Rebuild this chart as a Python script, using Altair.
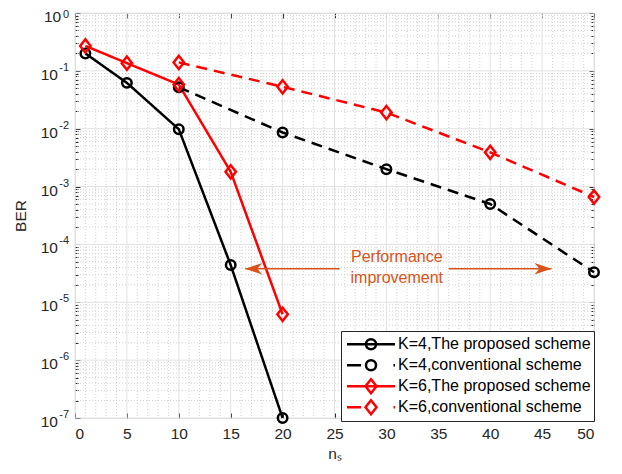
import altair as alt
import pandas as pd

# ---------------- data ----------------
ns_proposed = [1, 5, 10, 15, 20]
ns_conventional = [10, 20, 30, 40, 50]
ber_k4_proposed = [0.20, 0.062, 0.0098, 4.4e-5, 1e-7]
ber_k4_conventional = [0.052, 0.0086, 0.0020, 5.0e-4, 3.3e-5]
ber_k6_proposed = [0.27, 0.136, 0.058, 0.0018, 6.2e-6]
ber_k6_conventional = [0.14, 0.053, 0.019, 0.0039, 6.6e-4]

series_names = ["K=4,The proposed scheme", "K=4,conventional scheme",
                "K=6,The proposed scheme", "K=6,conventional scheme"]
series_x = [ns_proposed, ns_conventional, ns_proposed, ns_conventional]
series_y = [ber_k4_proposed, ber_k4_conventional, ber_k6_proposed, ber_k6_conventional]

x_major = list(range(0, 51, 5))
x_minor = [v for v in range(0, 51) if v % 5]
y_major = [10.0 ** e for e in range(-7, 1)]
y_minor = [k * 10.0 ** e for e in range(-7, 0) for k in range(2, 10)]

ann_lines = ["Performance", "improvement"]
ann_x = [31.0, 31.0]
ann_y = [6.1e-5, 2.6e-5]
arrow_y = 3.8e-5
arrow_left = [25.5, 16.4]   # tail, tip
arrow_right = [36.0, 45.9]  # tail, tip

# ---------------- styles ----------------
FONT = "Liberation Sans"
AX = "#262626"
ORANGE = "#D95319"
FS = 15.5
series_colors = ["#000000", "#000000", "#FF0000", "#FF0000"]
series_dash = [[1, 0], [11, 7], [1, 0], [11, 7]]
diamond = "M0,-1.4L1.1,0L0,1.4L-1.1,0Z"
point_shapes = ["circle", "circle", diamond, diamond]
circ = "M1,0A1,1,0,1,1,-1,0A1,1,0,1,1,1,0"
dia = "M0,-1.4L1.1,0L0,1.4L-1.1,0Z"
legend_shapes = [
    "M-4.8,0H4.8" + circ,
    "M-4.8,0H-2.0" + circ + "M4.5,0H4.8",
    "M-4.8,0H4.8" + dia,
    "M-4.8,0H-2.0" + dia + "M4.5,0H4.8",
]

rows = []
for name, xs_, ys_ in zip(series_names, series_x, series_y):
    for xv, yv in zip(xs_, ys_):
        rows.append({"series": name, "ns": xv, "ber": yv})
df = pd.DataFrame(rows)

W, H = 519, 405
xs = alt.Scale(domain=[0, 50], nice=False, zero=False)
ys = alt.Scale(type="log", domain=[1e-7, 1], nice=False)

def ax(**kw):
    base = dict(grid=False, domain=False, labels=False, title=None,
                tickColor=AX, tickWidth=1)
    base.update(kw)
    return alt.Axis(**base)

exp_expr = "datum.value > 0.5 ? '0' : '-' + round(abs(log(datum.value)/LN10))"

# grid layers
gx_minor = alt.Chart(pd.DataFrame({"v": x_minor})).mark_rule(
    color="#d2d2d2", strokeDash=[1, 2], strokeWidth=1).encode(
    x=alt.X("v:Q", scale=xs, axis=None))
gy_minor = alt.Chart(pd.DataFrame({"v": y_minor})).mark_rule(
    color="#d2d2d2", strokeDash=[1, 2], strokeWidth=1).encode(
    y=alt.Y("v:Q", scale=ys,
            axis=ax(orient="left", values=y_minor, tickSize=3, offset=-3)))
gx_major = alt.Chart(pd.DataFrame({"v": x_major})).mark_rule(
    color="#e2e2e2", strokeWidth=1).encode(
    x=alt.X("v:Q", scale=xs,
            axis=ax(orient="bottom", values=x_major, tickSize=5, offset=-5,
                    labels=True, labelFontSize=FS, labelColor=AX, labelFont=FONT,
                    labelPadding=8, title="n\u209b", titleFontSize=FS,
                    titleFont=FONT, titleColor=AX, titleFontWeight="normal",
                    titlePadding=5)))
gy_major = alt.Chart(pd.DataFrame({"v": y_major})).mark_rule(
    color="#e2e2e2", strokeWidth=1).encode(
    y=alt.Y("v:Q", scale=ys,
            axis=ax(orient="left", values=y_major, tickSize=5, offset=-5,
                    labels=True, labelExpr="'10'", labelFontSize=FS,
                    labelColor=AX, labelFont=FONT, labelOffset=3.5,
                    labelPadding={"condition": {"test": "datum.value > 0.5", "value": 14.3},
                                  "value": 17.5},
                    title="BER", titleFontSize=FS, titleFont=FONT,
                    titleColor=AX, titleFontWeight="normal", titlePadding=12)))

lines = alt.Chart(df).mark_line(strokeWidth=2.5).encode(
    x=alt.X("ns:Q", scale=xs, axis=ax(orient="top", values=x_major, tickSize=5, offset=-5)),
    y=alt.Y("ber:Q", scale=ys, axis=ax(orient="right", values=y_major, tickSize=5, offset=-5)),
    color=alt.Color("series:N", scale=alt.Scale(domain=series_names, range=series_colors), legend=None),
    strokeDash=alt.StrokeDash("series:N", scale=alt.Scale(domain=series_names, range=series_dash), legend=None),
    detail="series:N",
)
points = alt.Chart(df).mark_point(filled=False, strokeWidth=2.5, size=90, opacity=1).encode(
    x=alt.X("ns:Q", scale=xs, axis=None),
    y=alt.Y("ber:Q", scale=ys, axis=ax(orient="right", values=y_minor, tickSize=3, offset=-3)),
    color=alt.Color("series:N", scale=alt.Scale(domain=series_names, range=series_colors), legend=None),
    shape=alt.Shape("series:N", scale=alt.Scale(domain=series_names, range=point_shapes), legend=None),
)

leg_props = dict(title=None, orient="none", legendX=266, legendY=318,
                 fillColor="white", strokeColor=AX, padding=3,
                 labelFontSize=16, labelFont=FONT, labelColor="black", labelLimit=0,
                 symbolSize=100, symbolStrokeWidth=2.5, symbolOpacity=1,
                 symbolOffset=19, labelOffset=19, rowPadding=0, clipHeight=20.5)
legend_layer = alt.Chart(df).mark_point(filled=False, strokeWidth=2.5, size=100, opacity=0).encode(
    x=alt.X("ns:Q", scale=xs, axis=None),
    y=alt.Y("ber:Q", scale=ys, axis=None),
    color=alt.Color("series:N", scale=alt.Scale(domain=series_names, range=series_colors),
                    legend=alt.Legend(**leg_props)),
    shape=alt.Shape("series:N", scale=alt.Scale(domain=series_names, range=legend_shapes),
                    legend=alt.Legend(**leg_props)),
)

# annotation
arr_df = pd.DataFrame({"x1": [arrow_left[0], arrow_right[0]],
                       "x2": [arrow_left[1], arrow_right[1]],
                       "y": [arrow_y, arrow_y]})
arr_rules = alt.Chart(arr_df).mark_rule(color=ORANGE, strokeWidth=1.5).encode(
    x=alt.X("x1:Q", scale=xs, axis=None), x2="x2:Q",
    y=alt.Y("y:Q", scale=ys, axis=None))
head_l = alt.Chart(pd.DataFrame({"x": [arrow_left[1]], "y": [arrow_y]})).mark_point(
    shape="M0,0L3.4,-1.15L2.4,0L3.4,1.15Z", filled=True, size=100, color=ORANGE, opacity=1).encode(
    x=alt.X("x:Q", scale=xs, axis=None), y=alt.Y("y:Q", scale=ys, axis=None))
head_r = alt.Chart(pd.DataFrame({"x": [arrow_right[1]], "y": [arrow_y]})).mark_point(
    shape="M0,0L-3.4,-1.15L-2.4,0L-3.4,1.15Z", filled=True, size=100, color=ORANGE, opacity=1).encode(
    x=alt.X("x:Q", scale=xs, axis=None), y=alt.Y("y:Q", scale=ys, axis=None))
ann_text = alt.Chart(pd.DataFrame({"x": ann_x, "y": ann_y, "t": ann_lines})).mark_text(
    color=ORANGE, fontSize=16, font=FONT, align="center", baseline="middle").encode(
    x=alt.X("x:Q", scale=xs, axis=None),
    # exponent part of the y tick labels (10^k)
    y=alt.Y("y:Q", scale=ys,
            axis=ax(orient="left", values=y_major, tickSize=0, tickOpacity=0,
                    labels=True, labelExpr=exp_expr, labelFontSize=11,
                    labelColor=AX, labelFont=FONT, labelPadding=6.5,
                    labelOffset={"condition": {"test": "datum.value > 0.5", "value": 1},
                                 "value": -3.5})),
    text="t:N")

chart = alt.layer(
    gx_minor, gy_minor, gx_major, gy_major,
    lines, points, arr_rules, head_l, head_r, ann_text, legend_layer,
).resolve_scale(
    color="independent", shape="independent", strokeDash="independent"
).resolve_axis(
    x="independent", y="independent"
).properties(
    width=W, height=H,
    autosize=alt.AutoSizeParams(type="none"),
    padding={"left": 67, "top": 5, "right": 20, "bottom": 48},
).configure_view(
    stroke=AX, strokeWidth=1
).configure(font=FONT, background="white")

chart.save("out.html", embed_options={"renderer": "svg", "actions": False})
